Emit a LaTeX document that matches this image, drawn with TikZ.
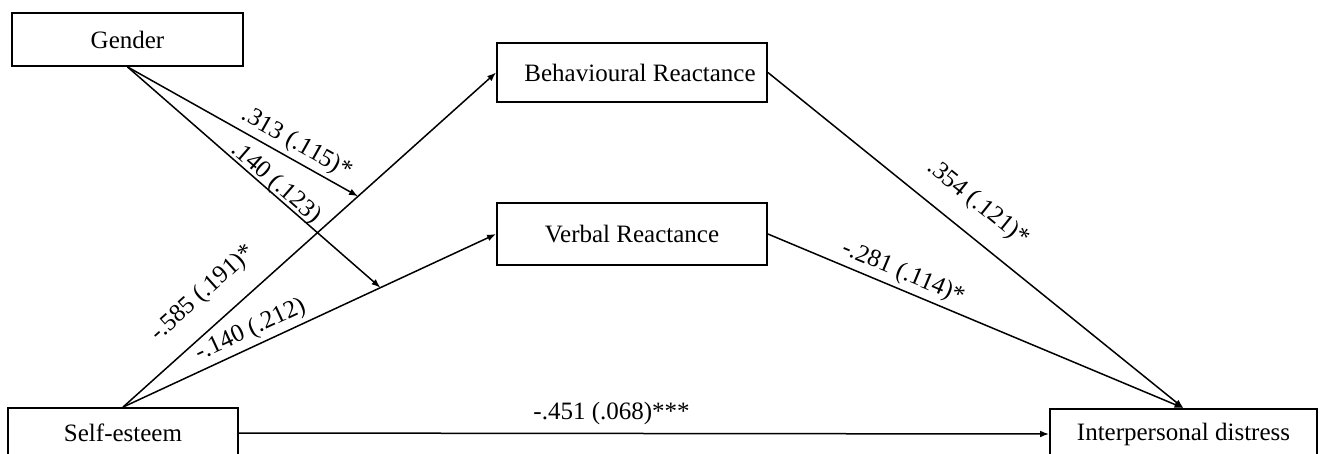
\documentclass[tikz,border=0pt]{standalone}
\usepackage{fontspec}
\setmainfont{Liberation Serif}
\usepackage{tikz}
\usetikzlibrary{arrows.meta}
\usetikzlibrary{calc}
\tikzset{b/.style={draw, line width=0.9pt, inner sep=0pt, font=\fontsize{12.5}{14}\selectfont}}
\tikzset{l/.style={inner sep=2pt, font=\fontsize{12.5}{14}\selectfont}}
\tikzset{a/.style={line width=0.75pt, -{Latex[length=4.5pt,width=3.4pt]}}}

\begin{document}
\begin{tikzpicture}[x=0.5pt, y=-0.5pt]
        \useasboundingbox (0,0) rectangle (1323,454);
        \node[b, minimum width=115.5pt, minimum height=26.5pt] (G) at (127.5,39.5) {Gender};
        \node[b, minimum width=135pt, minimum height=29.5pt] (BR) at (632,72.5) {\hspace{8pt}Behavioural Reactance};
        \node[b, minimum width=135pt, minimum height=31pt] (VR) at (632,234) {Verbal Reactance};
        \node[b, minimum width=115pt, minimum height=25pt] (SE) at (123,433) {Self-esteem};
        \node[b, minimum width=133.5pt, minimum height=25pt] (ID) at (1183.5,434) {Interpersonal distress};
        % moderation points on the a-paths
        \coordinate (m1) at ($(SE.north)!0.63!(BR.west)$);
        \coordinate (m2) at ($(SE.north)!0.69!(VR.west)$);
        \draw[a] (SE.north) -- node[l, sloped, above=7.5pt, pos=0.27] {-.585 (.191)*} (BR.west);
        \draw[a] (SE.north) -- node[l, sloped, above, pos=0.36] {-.140 (.212)} (VR.west);
        \draw[a] (G.south) -- node[l, sloped, above, pos=0.70] {.313 (.115)*} (m1);
        \draw[a] (G.south) -- node[l, sloped, above=-3pt, pos=0.56] {.140 (.123)} (m2);
        \draw[a] (BR.east) -- node[l, sloped, above=7pt, pos=0.46] {.354 (.121)*} (ID.north);
        \draw[a] (VR.east) -- node[l, sloped, above, pos=0.31] {-.281 (.114)*} (ID.north);
        \draw[a] (SE.east) -- node[l, above=2pt, pos=0.46] {-.451 (.068)***} (ID.west);
      \end{tikzpicture}
\end{document}
